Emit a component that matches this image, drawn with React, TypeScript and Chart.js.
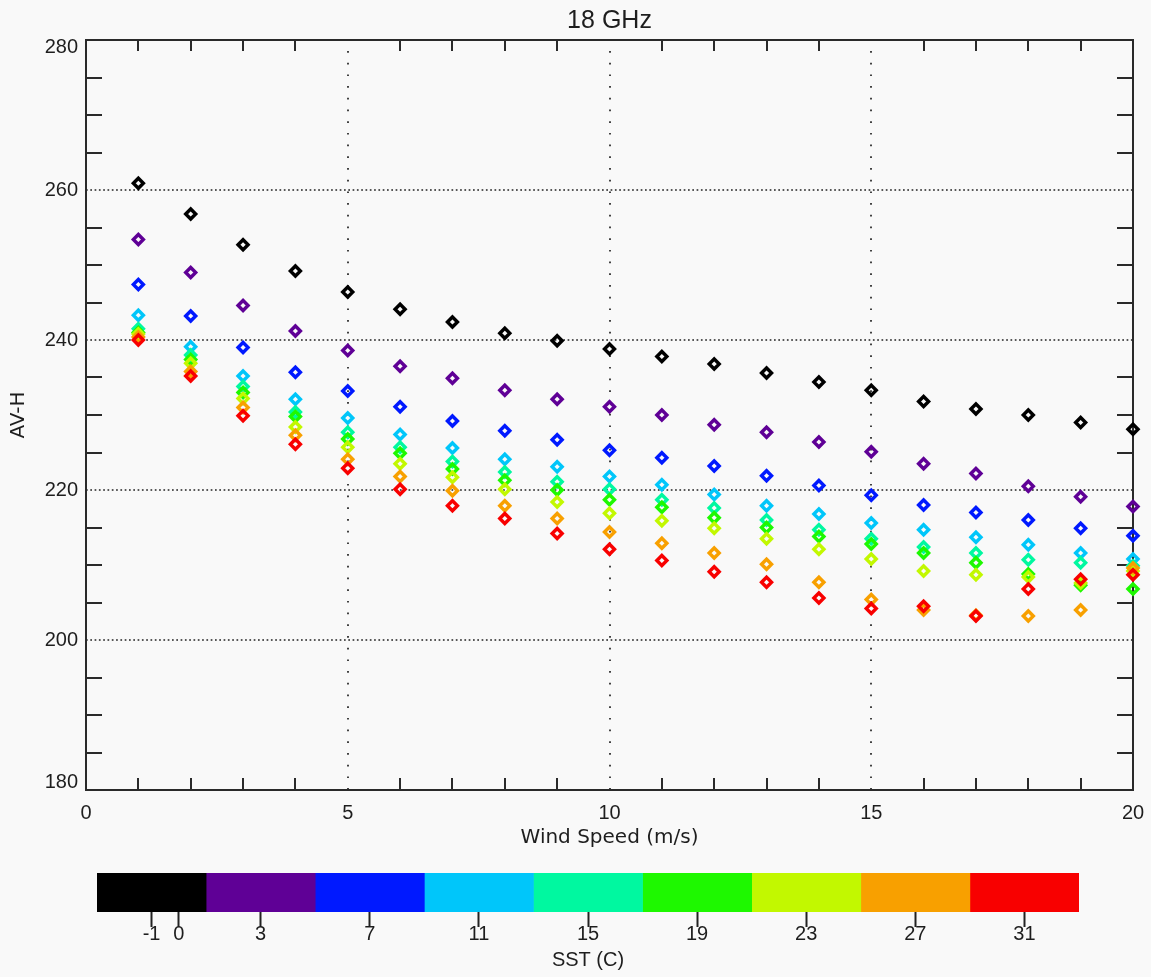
import React, { useEffect, useRef } from "react";
import { Chart, registerables } from "chart.js";

Chart.register(...registerables);

// ---- data ----
const windSpeed = [1, 2, 3, 4, 5, 6, 7, 8, 9, 10, 11, 12, 13, 14, 15, 16, 17, 18, 19, 20];

const sstLabels = ["-1", "3", "7", "11", "15", "19", "23", "27", "31"];
const sstColors = ["#000000", "#5f0096", "#0019ff", "#00c6fa", "#00f8a0", "#1ef800", "#c2f800", "#f8a000", "#f80000"];

const sstM1 = [260.9, 256.8, 252.7, 249.2, 246.4, 244.1, 242.4, 240.9, 239.9, 238.8, 237.8, 236.8, 235.6, 234.4, 233.3, 231.8, 230.8, 230.0, 229.0, 228.1];
const sst3 = [253.4, 249.0, 244.6, 241.2, 238.6, 236.5, 234.9, 233.3, 232.1, 231.1, 230.0, 228.7, 227.7, 226.4, 225.1, 223.5, 222.2, 220.5, 219.1, 217.8];
const sst7 = [247.4, 243.2, 239.0, 235.7, 233.2, 231.1, 229.2, 227.9, 226.7, 225.3, 224.3, 223.2, 221.9, 220.6, 219.3, 218.0, 217.0, 216.0, 214.9, 213.9];
const sst11 = [243.3, 239.1, 235.2, 232.1, 229.6, 227.4, 225.6, 224.1, 223.1, 221.8, 220.7, 219.4, 217.9, 216.8, 215.6, 214.7, 213.7, 212.7, 211.6, 210.8];
const sst15 = [241.5, 238.0, 233.8, 230.4, 227.7, 225.7, 223.8, 222.4, 221.1, 220.1, 218.7, 217.6, 216.0, 214.7, 213.5, 212.4, 211.6, 210.7, 210.3, 209.9];
const sst19 = [241.0, 237.4, 233.0, 229.8, 226.8, 224.9, 222.8, 221.3, 220.0, 218.7, 217.7, 216.3, 215.0, 213.8, 212.8, 211.6, 210.3, 208.8, 207.3, 206.8];
const sst23 = [240.8, 236.9, 232.2, 228.4, 225.7, 223.5, 221.7, 220.1, 218.4, 216.9, 215.9, 214.9, 213.5, 212.1, 210.8, 209.2, 208.7, 208.4, 207.6, 209.2];
const sst27 = [240.4, 235.8, 231.0, 227.3, 224.1, 221.8, 219.9, 217.9, 216.2, 214.4, 212.9, 211.6, 210.1, 207.7, 205.4, 204.0, 203.3, 203.2, 204.0, 209.6];
const sst31 = [240.0, 235.2, 229.9, 226.1, 222.9, 220.1, 217.9, 216.2, 214.2, 212.1, 210.6, 209.1, 207.7, 205.6, 204.2, 204.5, 203.2, 206.8, 208.1, 208.7];

const seriesValues = [sstM1, sst3, sst7, sst11, sst15, sst19, sst23, sst27, sst31];

// axis decoration values
const xGridValues = [5, 10, 15];
const yGridValues = [200, 220, 240, 260];
const xMinorTicks = [1, 2, 3, 4, 6, 7, 8, 9, 11, 12, 13, 14, 16, 17, 18, 19];
const yMinorTicks = [185, 190, 195, 205, 210, 215, 225, 230, 235, 245, 250, 255, 265, 270, 275];

// colour bar
const sstRanges: [number, number][] = [[-3, 1], [1, 5], [5, 9], [9, 13], [13, 17], [17, 21], [21, 25], [25, 29], [29, 33]];
const sstTickValues = [-1, 0, 3, 7, 11, 15, 19, 23, 27, 31];

const FONT = "'Liberation Sans', 'DejaVu Sans', sans-serif";
const WIDE_FONT = "'DejaVu Sans', 'Liberation Sans', sans-serif";
const TEXT = "#1e1e1e";
const BG = "#f9f9f9";
const Y_MIN = 180;
const Y_MAX = 280;

const framePlugin = {
  id: "idlFrame",
  beforeDatasetsDraw(chart: any) {
    const { ctx, chartArea, scales } = chart;
    const { left, right, top, bottom } = chartArea;
    const x = scales.x;
    const y = scales.y;
    ctx.save();
    ctx.strokeStyle = "#222";
    ctx.lineWidth = 1.7;
    ctx.setLineDash([1.7, 2.6]);
    for (const v of yGridValues) {
      const py = Math.round(y.getPixelForValue(v));
      ctx.beginPath();
      ctx.moveTo(left, py);
      ctx.lineTo(right, py);
      ctx.stroke();
    }
    ctx.setLineDash([1.7, 10]);
    ctx.lineDashOffset = -11;
    for (const v of xGridValues) {
      const px = Math.round(x.getPixelForValue(v));
      ctx.beginPath();
      ctx.moveTo(px, top);
      ctx.lineTo(px, bottom);
      ctx.stroke();
    }
    ctx.setLineDash([]);
    ctx.lineDashOffset = 0;
    ctx.strokeStyle = "#2a2a2a";
    ctx.lineWidth = 2;
    for (const v of xMinorTicks) {
      const px = Math.round(x.getPixelForValue(v));
      ctx.beginPath();
      ctx.moveTo(px, bottom);
      ctx.lineTo(px, bottom - 12);
      ctx.moveTo(px, top);
      ctx.lineTo(px, top + 11);
      ctx.stroke();
    }
    for (const v of yMinorTicks) {
      const py = Math.round(y.getPixelForValue(v));
      ctx.beginPath();
      ctx.moveTo(left, py);
      ctx.lineTo(left + 16, py);
      ctx.moveTo(right, py);
      ctx.lineTo(right - 16, py);
      ctx.stroke();
    }
    ctx.strokeStyle = "#2a2a2a";
    ctx.lineWidth = 2;
    ctx.strokeRect(left, top, right - left, bottom - top);
    ctx.restore();
  },
};

export default function App() {
  const mainRef = useRef<HTMLCanvasElement>(null);
  const barRef = useRef<HTMLCanvasElement>(null);

  useEffect(() => {
    document.body.style.margin = "0";
    document.body.style.background = BG;

    const datasets = seriesValues.map((vals, i) => ({
      label: sstLabels[i],
      data: windSpeed.map((w, j) => ({ x: w, y: vals[j] })),
      borderColor: sstColors[i],
      backgroundColor: "rgba(0,0,0,0)",
      borderWidth: 3.4,
      pointStyle: "rectRot",
      pointRadius: 5,
      pointBorderWidth: 3.4,
      pointBorderColor: sstColors[i],
      pointBackgroundColor: "rgba(0,0,0,0)",
      showLine: false,
      clip: false,
      order: seriesValues.length - i,
    }));

    const main = new Chart(mainRef.current!, {
      type: "scatter",
      data: { datasets: datasets as any },
      plugins: [framePlugin],
      options: {
        animation: false,
        responsive: false,
        layout: { autoPadding: false, padding: { left: 0, right: 18, top: 0, bottom: 0 } },
        plugins: {
          legend: { display: false },
          tooltip: { enabled: false },
          title: {
            display: true,
            fullSize: false,
            text: "18 GHz",
            color: TEXT,
            font: { family: FONT, size: 25, weight: "normal" },
            padding: { top: 6, bottom: 4 },
          },
        },
        scales: {
          x: {
            type: "linear",
            min: 0,
            max: 20,
            ticks: { stepSize: 5, color: TEXT, padding: 0, font: { family: FONT, size: 20 } },
            grid: { display: false, drawTicks: true, tickLength: 11 },
            border: { display: false },
            title: {
              display: true,
              text: "Wind Speed (m/s)",
              color: TEXT,
              font: { family: WIDE_FONT, size: 20 },
              padding: { top: 0, bottom: 10 },
            },
            afterFit: (s: any) => {
              s.height = 70;
            },
          },
          y: {
            type: "linear",
            min: Y_MIN,
            max: Y_MAX,
            ticks: {
              stepSize: 20,
              color: TEXT,
              padding: 8,
              // end labels sit inside the frame, as in the original plot
              callback: (v: any) => (v === Y_MAX ? ["", String(v)] : v === Y_MIN ? [String(v), ""] : String(v)),
              font: (c: any) => {
                const v = c.tick ? c.tick.value : null;
                const edge = v === Y_MAX || v === Y_MIN;
                return { family: FONT, size: 20, lineHeight: edge ? "15px" : 1.2 };
              },
            },
            grid: { display: false, drawTicks: false },
            border: { display: false },
            title: {
              display: true,
              text: "AV-H",
              color: TEXT,
              font: { family: WIDE_FONT, size: 20 },
              padding: { top: 7, bottom: 0 },
            },
            afterFit: (s: any) => {
              s.width = 86;
            },
          },
        },
      } as any,
    });

    const bar = new Chart(barRef.current!, {
      type: "bar",
      data: {
        labels: ["SST"],
        datasets: sstRanges.map((r, i) => ({
          label: sstLabels[i],
          data: [r],
          backgroundColor: sstColors[i],
          borderWidth: 0,
          grouped: false,
          barPercentage: 1,
          categoryPercentage: 1,
        })) as any,
      },
      options: {
        animation: false,
        responsive: false,
        indexAxis: "y",
        layout: { padding: { left: 97, right: 72, top: 13, bottom: 0 } },
        plugins: { legend: { display: false }, tooltip: { enabled: false } },
        scales: {
          y: { display: false },
          x: {
            type: "linear",
            min: -3,
            max: 33,
            afterBuildTicks: (s: any) => {
              s.ticks = sstTickValues.map((v) => ({ value: v }));
            },
            ticks: {
              color: TEXT,
              padding: -5,
              autoSkip: false,
              maxRotation: 0,
              font: { family: FONT, size: 20 },
              callback: (v: any) => String(v),
            },
            grid: {
              display: true,
              drawOnChartArea: false,
              drawTicks: true,
              tickLength: 15,
              tickWidth: 2,
              tickColor: "#222",
              color: "#222",
            },
            border: { display: false },
            title: {
              display: true,
              text: "SST (C)",
              color: TEXT,
              font: { family: FONT, size: 20 },
              padding: { top: 0, bottom: 5 },
            },
            afterFit: (s: any) => {
              s.height = 65;
            },
          },
        },
      } as any,
    });

    return () => {
      main.destroy();
      bar.destroy();
    };
  }, []);

  return (
    <div style={{ position: "relative", width: 1151, height: 977, background: BG }}>
      <canvas ref={mainRef} width={1151} height={860} style={{ position: "absolute", left: 0, top: 0 }} />
      <canvas ref={barRef} width={1151} height={117} style={{ position: "absolute", left: 0, top: 860 }} />
    </div>
  );
}
